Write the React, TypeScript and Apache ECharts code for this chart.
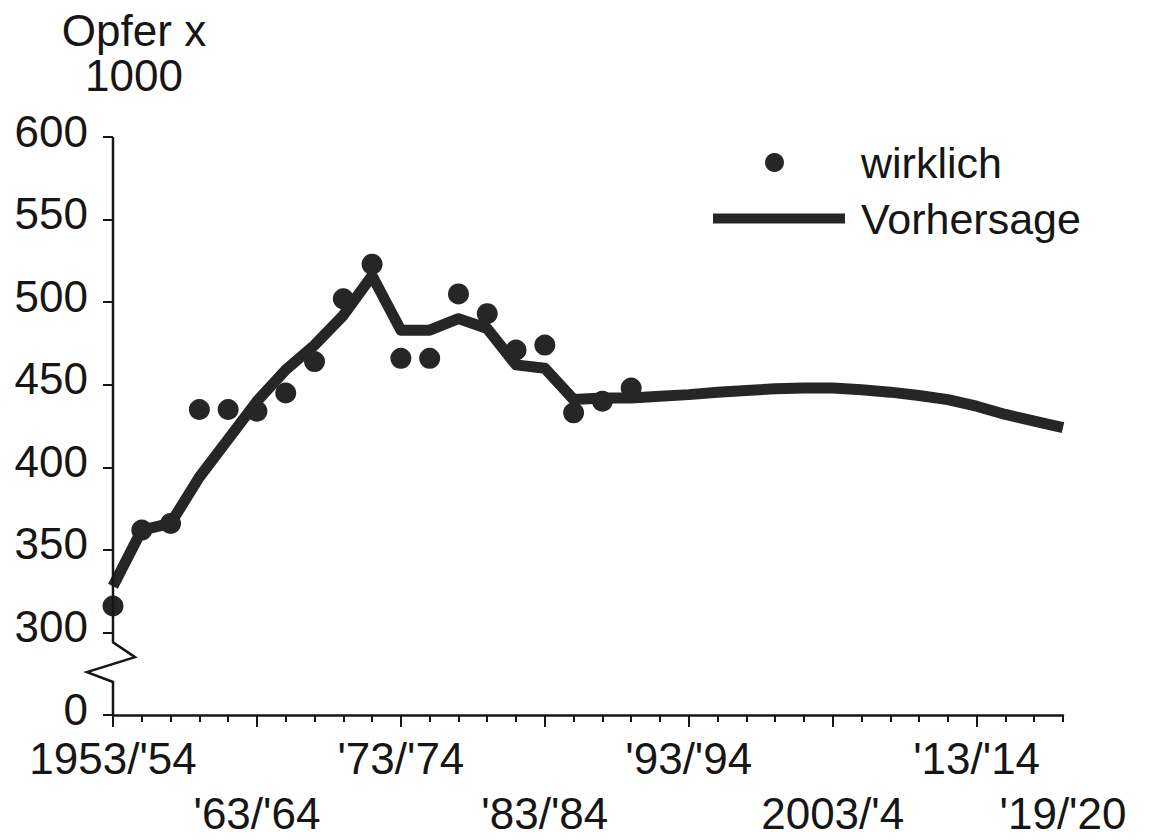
import React, { useEffect, useRef } from "react";
import * as echarts from "echarts";

// two-year steps (school years 1953/'54 ... 2019/'20)
const years = [
  1953, 1955, 1957, 1959, 1961, 1963, 1965, 1967, 1969, 1971,
  1973, 1975, 1977, 1979, 1981, 1983, 1985, 1987, 1989, 1991,
  1993, 1995, 1997, 1999, 2001, 2003, 2005, 2007, 2009, 2011,
  2013, 2015, 2017, 2019,
];

// observed values (Opfer x 1000), 1953 .. 1989
const actual = [
  316, 362, 366, 435, 435, 434, 445, 464, 502, 523,
  466, 466, 505, 493, 471, 474, 433, 440, 448,
];

// forecast values, 1953 .. 2019
const forecast = [
  328, 362, 366, 394, 417, 440, 459, 474, 492, 516,
  483, 483, 490, 484, 462, 460, 441, 442, 442, 443,
  444, 445.5, 446.5, 447.5, 448, 448, 447, 445.5, 443.5, 441,
  437, 432, 428, 424,
];

// x tick labels (two staggered rows)
const labelYears = [1953, 1963, 1973, 1983, 1993, 2003, 2013, 2019];
const labelTexts = ["1953/'54", "'63/'64", "'73/'74", "'83/'84", "'93/'94", "2003/'4", "'13/'14", "'19/'20"];
const lowerRowYears = [1963, 1983, 2003, 2019];

// y axis: the bottom value of the broken scale is shown as "0"
const yMin = 250;
const yMax = 600;
const yStep = 50;

export default function App() {
  const ref = useRef<HTMLDivElement>(null);

  useEffect(() => {
    if (!ref.current) return;
    const chart = echarts.init(ref.current, null, { renderer: "svg" });
    const font = "'Liberation Sans', Arial, Helvetica, sans-serif";
    const ink = "#161616";
    const markColor = "#262626";
    const cats = years.map(String);
    const labelMap = new Map<string, string>(labelYears.map((y, i) => [String(y), labelTexts[i]]));
    const lowerSet = new Set(lowerRowYears.map(String));
    const isUpper = (v: string) => labelMap.has(v) && !lowerSet.has(v);
    const isLower = (v: string) => lowerSet.has(v);

    const option: any = {
      animation: false,
      backgroundColor: "#ffffff",
      textStyle: { fontFamily: font },
      title: [
        {
          text: "Opfer x",
          left: 134,
          top: 8,
          textAlign: "center",
          padding: 0,
          textStyle: { fontSize: 44, fontWeight: "normal", color: ink, lineHeight: 45, fontFamily: font },
        },
        {
          text: "1000",
          left: 134,
          top: 53,
          textAlign: "center",
          padding: 0,
          textStyle: { fontSize: 44, fontWeight: "normal", color: ink, lineHeight: 45, fontFamily: font },
        },
      ],
      legend: [
        {
          data: ["wirklich"],
          left: 760,
          top: 136,
          itemWidth: 19,
          itemHeight: 19,
          icon: "circle",
          selectedMode: false,
          textStyle: { fontSize: 43, color: ink, fontFamily: font, padding: [0, 0, 0, 72] },
        },
        {
          data: ["Vorhersage"],
          left: 708,
          top: 192,
          itemWidth: 132,
          itemHeight: 10,
          icon: "rect",
          selectedMode: false,
          textStyle: { fontSize: 43, color: ink, fontFamily: font, padding: [0, 0, 0, 11] },
        },
      ],
      grid: { left: 113, right: 86, top: 137, bottom: 125, outerBoundsMode: "none" },
      xAxis: [
        {
          type: "category",
          data: cats,
          boundaryGap: false,
          position: "bottom",
          axisLine: { show: true, lineStyle: { color: ink, width: 2.5 } },
          axisTick: { show: true, interval: 0, length: 7, lineStyle: { color: ink, width: 2 } },
          axisLabel: {
            interval: (_i: number, v: string) => isUpper(v),
            formatter: (v: string) => labelMap.get(v) || "",
            showMinLabel: true,
            showMaxLabel: true,
            fontSize: 44,
            lineHeight: 36,
            margin: 25,
            color: ink,
            fontFamily: font,
          },
          splitLine: { show: false },
        },
        {
          type: "category",
          data: cats,
          boundaryGap: false,
          position: "bottom",
          axisLine: { show: false },
          axisTick: { show: true, interval: (i: number) => i % 5 === 0, length: 12, lineStyle: { color: ink, width: 2 } },
          axisLabel: {
            interval: (_i: number, v: string) => isLower(v),
            formatter: (v: string) => labelMap.get(v) || "",
            showMinLabel: true,
            showMaxLabel: true,
            fontSize: 44,
            lineHeight: 36,
            margin: 80,
            color: ink,
            fontFamily: font,
          },
          splitLine: { show: false },
        },
      ],
      yAxis: {
        type: "value",
        min: yMin,
        max: yMax,
        interval: yStep,
        axisLine: { show: false },
        axisTick: { show: true, length: 10, lineStyle: { color: ink, width: 2 } },
        axisLabel: {
          formatter: (v: number) => (v === yMin ? "0" : String(v)),
          fontSize: 44,
          lineHeight: 12,
          verticalAlign: "bottom",
          margin: 25,
          color: ink,
          fontFamily: font,
        },
        splitLine: { show: false },
      },
      series: [
        {
          name: "Vorhersage",
          type: "line",
          data: forecast,
          symbol: "none",
          lineStyle: { width: 11, color: markColor, join: "round", opacity: 1 },
          itemStyle: { color: markColor, opacity: 1 },
          z: 2,
        },
        {
          name: "wirklich",
          type: "scatter",
          data: actual,
          symbolSize: 21,
          itemStyle: { color: markColor, opacity: 1 },
          z: 3,
        },
      ],
    };

    chart.setOption(option);

    // y axis line with a break (zigzag) between 300 and 0
    const x0 = chart.convertToPixel({ xAxisIndex: 0 }, cats[0]) as number;
    const py = (v: number) => chart.convertToPixel({ yAxisIndex: 0 }, v) as number;
    chart.setOption({
      graphic: [
        {
          type: "polyline",
          z: 10,
          shape: {
            points: [
              [x0, py(yMax)],
              [x0, py(294)],
              [x0 + 22, py(285)],
              [x0 - 26, py(276)],
              [x0, py(270)],
              [x0, py(yMin)],
            ],
          },
          style: { stroke: ink, lineWidth: 2.5, fill: null },
        },
      ],
    });

    return () => chart.dispose();
  }, []);

  return (
    <div
      ref={ref}
      style={{ position: "fixed", left: 0, top: 0, width: 1149, height: 840, background: "#fff" }}
    />
  );
}
